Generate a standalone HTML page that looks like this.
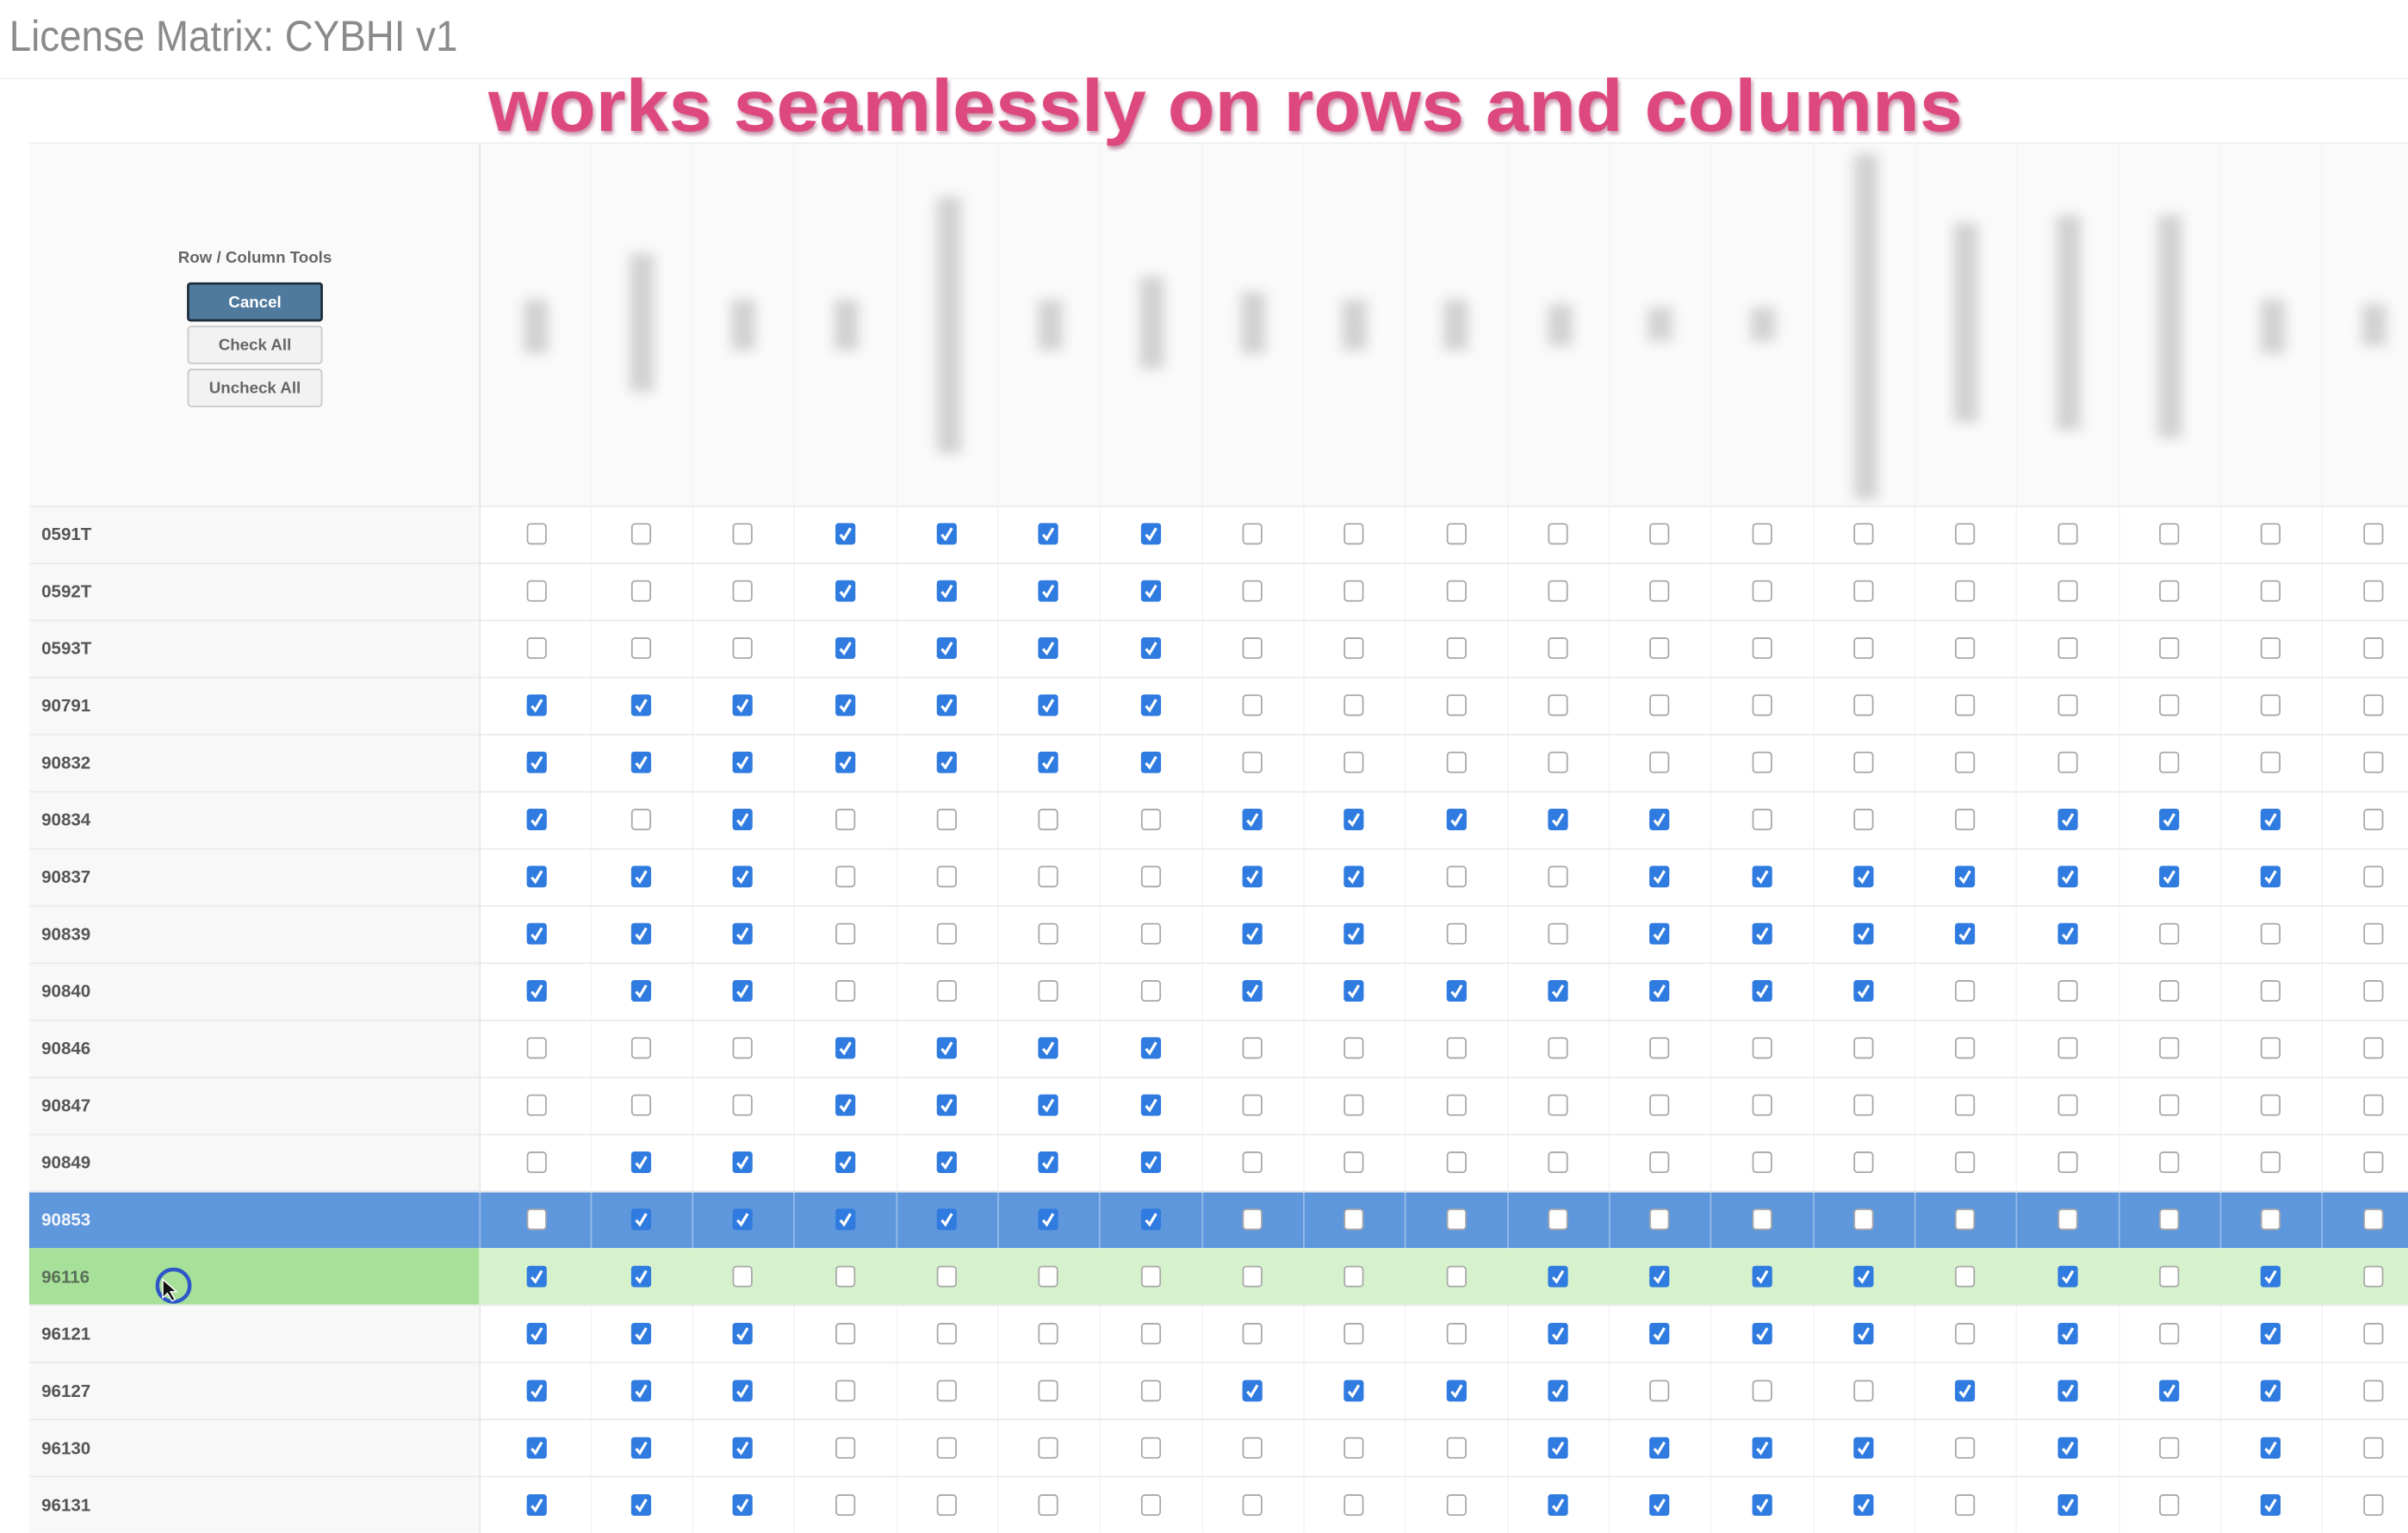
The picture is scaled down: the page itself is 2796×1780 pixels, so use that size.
<!DOCTYPE html>
<html><head><meta charset="utf-8"><style>
html,body{margin:0;padding:0;background:#fff;width:2796px;height:1780px;overflow:hidden}
svg{display:block}
</style></head><body>
<svg width="2796" height="1780" viewBox="0 0 1568 998" xmlns="http://www.w3.org/2000/svg" font-family="Liberation Sans, sans-serif">
<defs>
<filter id="bl" x="-100%" y="-20%" width="300%" height="140%"><feGaussianBlur stdDeviation="4"/></filter>
<filter id="sh" x="-5%" y="-20%" width="110%" height="150%"><feDropShadow dx="1" dy="2" stdDeviation="1.2" flood-color="#7a1f3f" flood-opacity="0.45"/></filter>
<symbol id="u" overflow="visible"><rect x="0.5" y="0.5" width="12" height="13" rx="2" fill="#fff" stroke="#a8a8a8" stroke-width="1"/></symbol>
<symbol id="c" overflow="visible"><rect x="0" y="0" width="13" height="14" rx="2" fill="#2f7be0"/><path d="M3.2 7.5 L5.6 10.3 L9.8 3.3" stroke="#fff" stroke-width="1.8" fill="none"/></symbol>
<g id="A"><use href="#u" x="343"/><use href="#u" x="411"/><use href="#u" x="477"/><use href="#c" x="544"/><use href="#c" x="610"/><use href="#c" x="676"/><use href="#c" x="743"/><use href="#u" x="809"/><use href="#u" x="875"/><use href="#u" x="942"/><use href="#u" x="1008"/><use href="#u" x="1074"/><use href="#u" x="1141"/><use href="#u" x="1207"/><use href="#u" x="1273"/><use href="#u" x="1340"/><use href="#u" x="1406"/><use href="#u" x="1472"/><use href="#u" x="1539"/></g>
<g id="B"><use href="#c" x="343"/><use href="#c" x="411"/><use href="#c" x="477"/><use href="#c" x="544"/><use href="#c" x="610"/><use href="#c" x="676"/><use href="#c" x="743"/><use href="#u" x="809"/><use href="#u" x="875"/><use href="#u" x="942"/><use href="#u" x="1008"/><use href="#u" x="1074"/><use href="#u" x="1141"/><use href="#u" x="1207"/><use href="#u" x="1273"/><use href="#u" x="1340"/><use href="#u" x="1406"/><use href="#u" x="1472"/><use href="#u" x="1539"/></g>
<g id="C"><use href="#c" x="343"/><use href="#u" x="411"/><use href="#c" x="477"/><use href="#u" x="544"/><use href="#u" x="610"/><use href="#u" x="676"/><use href="#u" x="743"/><use href="#c" x="809"/><use href="#c" x="875"/><use href="#c" x="942"/><use href="#c" x="1008"/><use href="#c" x="1074"/><use href="#u" x="1141"/><use href="#u" x="1207"/><use href="#u" x="1273"/><use href="#c" x="1340"/><use href="#c" x="1406"/><use href="#c" x="1472"/><use href="#u" x="1539"/></g>
<g id="D"><use href="#c" x="343"/><use href="#c" x="411"/><use href="#c" x="477"/><use href="#u" x="544"/><use href="#u" x="610"/><use href="#u" x="676"/><use href="#u" x="743"/><use href="#c" x="809"/><use href="#c" x="875"/><use href="#u" x="942"/><use href="#u" x="1008"/><use href="#c" x="1074"/><use href="#c" x="1141"/><use href="#c" x="1207"/><use href="#c" x="1273"/><use href="#c" x="1340"/><use href="#c" x="1406"/><use href="#c" x="1472"/><use href="#u" x="1539"/></g>
<g id="E"><use href="#c" x="343"/><use href="#c" x="411"/><use href="#c" x="477"/><use href="#u" x="544"/><use href="#u" x="610"/><use href="#u" x="676"/><use href="#u" x="743"/><use href="#c" x="809"/><use href="#c" x="875"/><use href="#u" x="942"/><use href="#u" x="1008"/><use href="#c" x="1074"/><use href="#c" x="1141"/><use href="#c" x="1207"/><use href="#c" x="1273"/><use href="#c" x="1340"/><use href="#u" x="1406"/><use href="#u" x="1472"/><use href="#u" x="1539"/></g>
<g id="F"><use href="#c" x="343"/><use href="#c" x="411"/><use href="#c" x="477"/><use href="#u" x="544"/><use href="#u" x="610"/><use href="#u" x="676"/><use href="#u" x="743"/><use href="#c" x="809"/><use href="#c" x="875"/><use href="#c" x="942"/><use href="#c" x="1008"/><use href="#c" x="1074"/><use href="#c" x="1141"/><use href="#c" x="1207"/><use href="#u" x="1273"/><use href="#u" x="1340"/><use href="#u" x="1406"/><use href="#u" x="1472"/><use href="#u" x="1539"/></g>
<g id="G"><use href="#u" x="343"/><use href="#c" x="411"/><use href="#c" x="477"/><use href="#c" x="544"/><use href="#c" x="610"/><use href="#c" x="676"/><use href="#c" x="743"/><use href="#u" x="809"/><use href="#u" x="875"/><use href="#u" x="942"/><use href="#u" x="1008"/><use href="#u" x="1074"/><use href="#u" x="1141"/><use href="#u" x="1207"/><use href="#u" x="1273"/><use href="#u" x="1340"/><use href="#u" x="1406"/><use href="#u" x="1472"/><use href="#u" x="1539"/></g>
<g id="H"><use href="#c" x="343"/><use href="#c" x="411"/><use href="#u" x="477"/><use href="#u" x="544"/><use href="#u" x="610"/><use href="#u" x="676"/><use href="#u" x="743"/><use href="#u" x="809"/><use href="#u" x="875"/><use href="#u" x="942"/><use href="#c" x="1008"/><use href="#c" x="1074"/><use href="#c" x="1141"/><use href="#c" x="1207"/><use href="#u" x="1273"/><use href="#c" x="1340"/><use href="#u" x="1406"/><use href="#c" x="1472"/><use href="#u" x="1539"/></g>
<g id="I"><use href="#c" x="343"/><use href="#c" x="411"/><use href="#c" x="477"/><use href="#u" x="544"/><use href="#u" x="610"/><use href="#u" x="676"/><use href="#u" x="743"/><use href="#u" x="809"/><use href="#u" x="875"/><use href="#u" x="942"/><use href="#c" x="1008"/><use href="#c" x="1074"/><use href="#c" x="1141"/><use href="#c" x="1207"/><use href="#u" x="1273"/><use href="#c" x="1340"/><use href="#u" x="1406"/><use href="#c" x="1472"/><use href="#u" x="1539"/></g>
<g id="J"><use href="#c" x="343"/><use href="#c" x="411"/><use href="#c" x="477"/><use href="#u" x="544"/><use href="#u" x="610"/><use href="#u" x="676"/><use href="#u" x="743"/><use href="#c" x="809"/><use href="#c" x="875"/><use href="#c" x="942"/><use href="#c" x="1008"/><use href="#u" x="1074"/><use href="#u" x="1141"/><use href="#u" x="1207"/><use href="#c" x="1273"/><use href="#c" x="1340"/><use href="#c" x="1406"/><use href="#c" x="1472"/><use href="#u" x="1539"/></g>
</defs>

<rect width="1568" height="998" fill="#fff"/>
<text x="6" y="33" font-size="28" fill="#8a8a8a" textLength="292" lengthAdjust="spacingAndGlyphs">License Matrix: CYBHI v1</text>
<line x1="0" y1="51" x2="1568" y2="51" stroke="#f1f1f1" stroke-width="1"/>

<rect x="19" y="93" width="1549" height="236" fill="#fafafa"/>
<line x1="19" y1="93" x2="1568" y2="93" stroke="#efefef"/>
<line x1="312.5" y1="93" x2="312.5" y2="998" stroke="#e6e6e6"/>
<rect x="19" y="329" width="293" height="669" fill="#f8f8f8"/>

<g stroke="#f5f5f5" stroke-width="1">
<line x1="385" y1="93" x2="385" y2="998"/><line x1="451" y1="93" x2="451" y2="998"/><line x1="517" y1="93" x2="517" y2="998"/><line x1="584" y1="93" x2="584" y2="998"/><line x1="650" y1="93" x2="650" y2="998"/><line x1="716" y1="93" x2="716" y2="998"/><line x1="783" y1="93" x2="783" y2="998"/><line x1="849" y1="93" x2="849" y2="998"/><line x1="915" y1="93" x2="915" y2="998"/><line x1="982" y1="93" x2="982" y2="998"/><line x1="1048" y1="93" x2="1048" y2="998"/><line x1="1114" y1="93" x2="1114" y2="998"/><line x1="1181" y1="93" x2="1181" y2="998"/><line x1="1247" y1="93" x2="1247" y2="998"/><line x1="1313" y1="93" x2="1313" y2="998"/><line x1="1380" y1="93" x2="1380" y2="998"/><line x1="1446" y1="93" x2="1446" y2="998"/><line x1="1512" y1="93" x2="1512" y2="998"/>
</g>

<g fill="#d2d2d2" filter="url(#bl)">
<rect x="341" y="195" width="16" height="35"/>
<rect x="410" y="165" width="16" height="90"/>
<rect x="476" y="195" width="16" height="33"/>
<rect x="543" y="195" width="16" height="33"/>
<rect x="610" y="128" width="16" height="167"/>
<rect x="676" y="195" width="16" height="33"/>
<rect x="742" y="180" width="16" height="60"/>
<rect x="808" y="190" width="16" height="40"/>
<rect x="874" y="195" width="16" height="33"/>
<rect x="940" y="195" width="16" height="33"/>
<rect x="1008" y="198" width="16" height="27"/>
<rect x="1073" y="200" width="16" height="22"/>
<rect x="1140" y="200" width="16" height="22"/>
<rect x="1207" y="100" width="16" height="225"/>
<rect x="1272" y="145" width="16" height="130"/>
<rect x="1339" y="140" width="16" height="140"/>
<rect x="1405" y="140" width="16" height="145"/>
<rect x="1472" y="195" width="16" height="35"/>
<rect x="1538" y="198" width="16" height="27"/>
</g>

<text x="166" y="171" font-size="10.5" fill="#666" text-anchor="middle" font-weight="bold">Row / Column Tools</text>
<rect x="122.5" y="184.5" width="87" height="24" rx="1.5" fill="#50799e" stroke="#1d2b38" stroke-width="1.5"/>
<text x="166" y="200" font-size="10.5" fill="#fff" text-anchor="middle" font-weight="bold">Cancel</text>
<rect x="122.5" y="212.5" width="87" height="24" rx="2" fill="#f2f2f2" stroke="#c9c9c9"/>
<text x="166" y="228" font-size="10.5" fill="#666" text-anchor="middle" font-weight="bold">Check All</text>
<rect x="122.5" y="240.5" width="87" height="24" rx="2" fill="#f2f2f2" stroke="#c9c9c9"/>
<text x="166" y="256" font-size="10.5" fill="#666" text-anchor="middle" font-weight="bold">Uncheck All</text>

<rect x="19" y="775.4" width="1549" height="37.2" fill="#5f97dd"/>
<rect x="19" y="812.6" width="293" height="37.2" fill="#a7e199"/>
<rect x="312" y="812.6" width="1256" height="37.2" fill="#d6f2cd"/>
<g stroke="#ffffff" stroke-opacity="0.35">
<line x1="385" y1="775" x2="385" y2="813"/><line x1="451" y1="775" x2="451" y2="813"/><line x1="517" y1="775" x2="517" y2="813"/><line x1="584" y1="775" x2="584" y2="813"/><line x1="650" y1="775" x2="650" y2="813"/><line x1="716" y1="775" x2="716" y2="813"/><line x1="783" y1="775" x2="783" y2="813"/><line x1="849" y1="775" x2="849" y2="813"/><line x1="915" y1="775" x2="915" y2="813"/><line x1="982" y1="775" x2="982" y2="813"/><line x1="1048" y1="775" x2="1048" y2="813"/><line x1="1114" y1="775" x2="1114" y2="813"/><line x1="1181" y1="775" x2="1181" y2="813"/><line x1="1247" y1="775" x2="1247" y2="813"/><line x1="1313" y1="775" x2="1313" y2="813"/><line x1="1380" y1="775" x2="1380" y2="813"/><line x1="1446" y1="775" x2="1446" y2="813"/><line x1="1512" y1="775" x2="1512" y2="813"/><line x1="312.5" y1="775" x2="312.5" y2="813"/>
</g>

<g stroke="#ebebeb" stroke-width="1">
<line x1="19" y1="329.5" x2="1568" y2="329.5"/><line x1="19" y1="366.7" x2="1568" y2="366.7"/><line x1="19" y1="403.9" x2="1568" y2="403.9"/><line x1="19" y1="441.1" x2="1568" y2="441.1"/><line x1="19" y1="478.3" x2="1568" y2="478.3"/><line x1="19" y1="515.5" x2="1568" y2="515.5"/><line x1="19" y1="552.7" x2="1568" y2="552.7"/><line x1="19" y1="589.9" x2="1568" y2="589.9"/><line x1="19" y1="627.1" x2="1568" y2="627.1"/><line x1="19" y1="664.3" x2="1568" y2="664.3"/><line x1="19" y1="701.5" x2="1568" y2="701.5"/><line x1="19" y1="738.7" x2="1568" y2="738.7"/><line x1="19" y1="775.9" x2="1568" y2="775.9"/><line x1="19" y1="849.8" x2="1568" y2="849.8"/><line x1="19" y1="887" x2="1568" y2="887"/><line x1="19" y1="924.2" x2="1568" y2="924.2"/><line x1="19" y1="961.4" x2="1568" y2="961.4"/>
</g>

<use href="#A" y="340.5"/>
<use href="#A" y="377.7"/>
<use href="#A" y="414.9"/>
<use href="#B" y="452.1"/>
<use href="#B" y="489.3"/>
<use href="#C" y="526.5"/>
<use href="#D" y="563.7"/>
<use href="#E" y="600.9"/>
<use href="#F" y="638.1"/>
<use href="#A" y="675.3"/>
<use href="#A" y="712.5"/>
<use href="#G" y="749.7"/>
<use href="#G" y="786.9"/>
<use href="#H" y="824.1"/>
<use href="#I" y="861.3"/>
<use href="#J" y="898.5"/>
<use href="#I" y="935.7"/>
<use href="#I" y="972.9"/>

<g font-size="11.5" font-weight="bold" fill="#555">
<text x="27" y="351.5">0591T</text>
<text x="27" y="388.7">0592T</text>
<text x="27" y="425.9">0593T</text>
<text x="27" y="463.1">90791</text>
<text x="27" y="500.3">90832</text>
<text x="27" y="537.5">90834</text>
<text x="27" y="574.7">90837</text>
<text x="27" y="611.9">90839</text>
<text x="27" y="649.1">90840</text>
<text x="27" y="686.3">90846</text>
<text x="27" y="723.5">90847</text>
<text x="27" y="760.7">90849</text>
<text x="27" y="797.9" fill="#f2f6fc">90853</text>
<text x="27" y="835.1" fill="#5a6e58">96116</text>
<text x="27" y="872.3">96121</text>
<text x="27" y="909.5">96127</text>
<text x="27" y="946.7">96130</text>
<text x="27" y="983.9">96131</text>
</g>

<circle cx="113" cy="837" r="10.5" fill="none" stroke="#2f56c9" stroke-width="2.5"/>
<path d="M106 833 L106 845 L109 842 L112 847 L114 846 L111 841 L115 841 Z" fill="#111" stroke="#fff" stroke-width="0.8"/>

<text x="318" y="85" font-size="48" font-weight="bold" fill="#dd4a7e" textLength="960" lengthAdjust="spacingAndGlyphs" filter="url(#sh)">works seamlessly on rows and columns</text>
</svg>
</body></html>
